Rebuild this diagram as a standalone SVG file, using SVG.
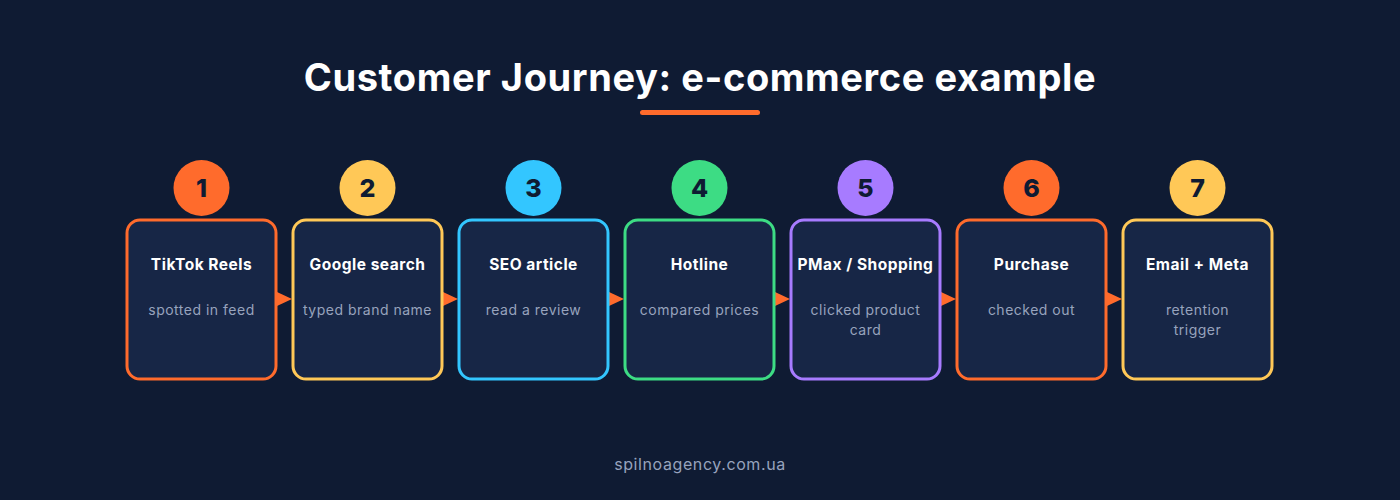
<svg xmlns="http://www.w3.org/2000/svg" width="1400" height="500" viewBox="0 0 1400 500">
<style>
.box{fill:#172646;stroke-width:3}
.t{font-family:Inter,"Open Sans",sans-serif;font-weight:700;font-size:15.5px;letter-spacing:0.5px;fill:#ffffff;text-anchor:middle}
.s{font-family:Inter,"Open Sans",sans-serif;font-size:14px;letter-spacing:0.5px;fill:#97a3bd;text-anchor:middle}
.n{font-family:Inter,"Open Sans",sans-serif;font-weight:800;font-size:25px;fill:#0f1b33;text-anchor:middle}
.ar{fill:#ff6b2c}
</style>
<rect width="1400" height="500" fill="#0f1b33"/>
<text x="700" y="91" font-family="Inter,'Open Sans',sans-serif" font-weight="700" font-size="38" letter-spacing="0.6" fill="#fff" text-anchor="middle">Customer Journey: e-commerce example</text>
<rect x="640" y="110" width="120" height="5" rx="2.5" fill="#ff6b2c"/>
<g id="connectors">
<polygon class="ar" points="277,292 292,299 277,306"/>
<polygon class="ar" points="443,292 458,299 443,306"/>
<polygon class="ar" points="609,292 624,299 609,306"/>
<polygon class="ar" points="775,292 790,299 775,306"/>
<polygon class="ar" points="941,292 956,299 941,306"/>
<polygon class="ar" points="1107,292 1122,299 1107,306"/>
</g>
<g id="n1"><rect class="box" x="127" y="220" width="149" height="159" rx="13" stroke="#ff6b2c"/><circle cx="201.5" cy="188" r="28" fill="#ff6b2c"/><text class="n" x="201.5" y="197">1</text><text class="t" x="201.5" y="270">TikTok Reels</text><text class="s" x="201.5" y="315">spotted in feed</text></g>
<g id="n2"><rect class="box" x="293" y="220" width="149" height="159" rx="13" stroke="#ffc857"/><circle cx="367.5" cy="188" r="28" fill="#ffc857"/><text class="n" x="367.5" y="197">2</text><text class="t" x="367.5" y="270">Google search</text><text class="s" x="367.5" y="315">typed brand name</text></g>
<g id="n3"><rect class="box" x="459" y="220" width="149" height="159" rx="13" stroke="#33c6ff"/><circle cx="533.5" cy="188" r="28" fill="#33c6ff"/><text class="n" x="533.5" y="197">3</text><text class="t" x="533.5" y="270">SEO article</text><text class="s" x="533.5" y="315">read a review</text></g>
<g id="n4"><rect class="box" x="625" y="220" width="149" height="159" rx="13" stroke="#3ddc84"/><circle cx="699.5" cy="188" r="28" fill="#3ddc84"/><text class="n" x="699.5" y="197">4</text><text class="t" x="699.5" y="270">Hotline</text><text class="s" x="699.5" y="315">compared prices</text></g>
<g id="n5"><rect class="box" x="791" y="220" width="149" height="159" rx="13" stroke="#a77bff"/><circle cx="865.5" cy="188" r="28" fill="#a77bff"/><text class="n" x="865.5" y="197">5</text><text class="t" x="865.5" y="270">PMax / Shopping</text><text class="s" x="865.5" y="315">clicked product</text><text class="s" x="865.5" y="335">card</text></g>
<g id="n6"><rect class="box" x="957" y="220" width="149" height="159" rx="13" stroke="#ff6b2c"/><circle cx="1031.5" cy="188" r="28" fill="#ff6b2c"/><text class="n" x="1031.5" y="197">6</text><text class="t" x="1031.5" y="270">Purchase</text><text class="s" x="1031.5" y="315">checked out</text></g>
<g id="n7"><rect class="box" x="1123" y="220" width="149" height="159" rx="13" stroke="#ffc857"/><circle cx="1197.5" cy="188" r="28" fill="#ffc857"/><text class="n" x="1197.5" y="197">7</text><text class="t" x="1197.5" y="270">Email + Meta</text><text class="s" x="1197.5" y="315">retention</text><text class="s" x="1197.5" y="335">trigger</text></g>
<text x="700" y="470" font-family="Inter,'Open Sans',sans-serif" font-size="16" letter-spacing="0.6" fill="#97a3bd" text-anchor="middle">spilnoagency.com.ua</text>
</svg>
